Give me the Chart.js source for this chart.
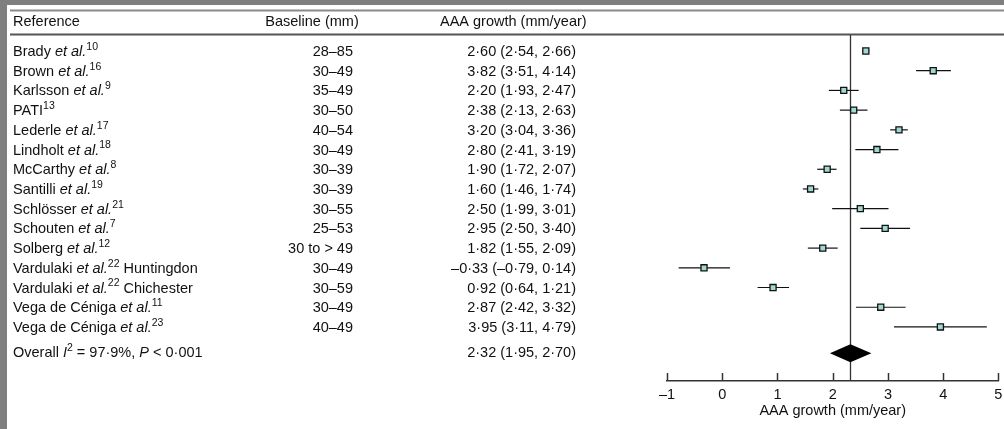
<!DOCTYPE html>
<html>
<head>
<meta charset="utf-8">
<script src="https://cdn.jsdelivr.net/npm/chart.js@4.4.0/dist/chart.umd.min.js"></script>
<style>
  html, body { margin: 0; padding: 0; background: #7f7f7f; }
  #wrap { position: absolute; left: 0; top: 0; width: 1004px; height: 429px; }
</style>
</head>
<body>
<div id="wrap"><canvas id="forestChart"></canvas></div>
<script>
// study rows, top to bottom
const studyLabels = [
  'Brady <i>et al.</i><sup>10</sup>',
  'Brown <i>et al.</i><sup>16</sup>',
  'Karlsson <i>et al.</i><sup>9</sup>',
  'PATI<sup>13</sup>',
  'Lederle <i>et al.</i><sup>17</sup>',
  'Lindholt <i>et al.</i><sup>18</sup>',
  'McCarthy <i>et al.</i><sup>8</sup>',
  'Santilli <i>et al.</i><sup>19</sup>',
  'Schlösser <i>et al.</i><sup>21</sup>',
  'Schouten <i>et al.</i><sup>7</sup>',
  'Solberg <i>et al.</i><sup>12</sup>',
  'Vardulaki <i>et al.</i><sup>22</sup> Huntingdon',
  'Vardulaki <i>et al.</i><sup>22</sup> Chichester',
  'Vega de Céniga <i>et al.</i><sup>11</sup>',
  'Vega de Céniga <i>et al.</i><sup>23</sup>'
];
const baselines = ['28–85', '30–49', '35–49', '30–50', '40–54', '30–49', '30–39', '30–39',
  '30–55', '25–53', '30 to > 49', '30–49', '30–59', '30–49', '40–49'];
const growth = [2.60, 3.82, 2.20, 2.38, 3.20, 2.80, 1.90, 1.60, 2.50, 2.95, 1.82, -0.33, 0.92, 2.87, 3.95];
const lower  = [2.54, 3.51, 1.93, 2.13, 3.04, 2.41, 1.72, 1.46, 1.99, 2.50, 1.55, -0.79, 0.64, 2.42, 3.11];
const upper  = [2.66, 4.14, 2.47, 2.63, 3.36, 3.19, 2.07, 1.74, 3.01, 3.40, 2.09, 0.14, 1.21, 3.32, 4.79];

const overallLabel = 'Overall <i>I</i><sup>2</sup> = 97·9%, <i>P</i> < 0·001';
const overall = { est: 2.32, lo: 1.95, hi: 2.70 };
const overallRow = 15.33;

const xTicks = [-1, 0, 1, 2, 3, 4, 5];
const headers = ['Reference', 'Baseline (mm)', 'AAA growth (mm/year)'];

const FONT = '"Liberation Sans", Arial, Helvetica, sans-serif';
const FS = 14.5;

function fmt(v) {
  return (v < 0 ? '–' : '') + Math.abs(v).toFixed(2).replace('.', '·');
}

function parts(str) {
  return str.split(/(<i>.*?<\/i>|<sup>.*?<\/sup>)/).filter(s => s).map(s => {
    if (s.startsWith('<i>')) return { t: s.slice(3, -4), k: 'i' };
    if (s.startsWith('<sup>')) return { t: s.slice(5, -6), k: 'sup' };
    return { t: s, k: 'n' };
  });
}

function fontFor(k) {
  if (k === 'i') return 'italic ' + FS + 'px ' + FONT;
  if (k === 'sup') return (FS - 4) + 'px ' + FONT;
  return FS + 'px ' + FONT;
}

function drawRich(ctx, str, x, y, align) {
  const ps = parts(str);
  let total = 0;
  ps.forEach(p => { ctx.font = fontFor(p.k); p.w = ctx.measureText(p.t).width; total += p.w; });
  let cx = align === 'right' ? x - total : align === 'center' ? x - total / 2 : x;
  ctx.textAlign = 'left';
  ps.forEach(p => {
    ctx.font = fontFor(p.k);
    ctx.fillText(p.t, cx, p.k === 'sup' ? y - 5 : y);
    cx += p.w;
  });
}

const forestPlugin = {
  id: 'forest',
  beforeDraw(chart) {
    const ctx = chart.ctx;
    ctx.save();
    ctx.fillStyle = '#7f7f7f';
    ctx.fillRect(0, 0, chart.width, chart.height);
    ctx.fillStyle = '#fff';
    ctx.fillRect(7, 5, chart.width - 7, chart.height - 5);
    // table rules
    ctx.strokeStyle = '#8a8a8a';
    ctx.lineWidth = 2;
    ctx.beginPath(); ctx.moveTo(10, 10.5); ctx.lineTo(chart.width, 10.5); ctx.stroke();
    ctx.strokeStyle = '#555';
    ctx.beginPath(); ctx.moveTo(10, 34.5); ctx.lineTo(chart.width, 34.5); ctx.stroke();
    ctx.restore();
  },
  beforeDatasetsDraw(chart) {
    const ctx = chart.ctx, xs = chart.scales.x, ys = chart.scales.y;
    const area = chart.chartArea;
    ctx.save();
    // reference line at pooled estimate
    const xo = Math.round(xs.getPixelForValue(overall.est)) + 0.5;
    ctx.strokeStyle = '#333';
    ctx.lineWidth = 1.3;
    ctx.beginPath(); ctx.moveTo(xo, area.top); ctx.lineTo(xo, area.bottom); ctx.stroke();
    // confidence intervals
    ctx.strokeStyle = '#111';
    ctx.lineWidth = 1.2;
    growth.forEach((g, i) => {
      const y = ys.getPixelForValue(i);
      ctx.beginPath();
      ctx.moveTo(xs.getPixelForValue(lower[i]), y);
      ctx.lineTo(xs.getPixelForValue(upper[i]), y);
      ctx.stroke();
    });
    // pooled diamond
    const yd = ys.getPixelForValue(overallRow);
    ctx.fillStyle = '#000';
    ctx.beginPath();
    ctx.moveTo(xs.getPixelForValue(overall.lo), yd);
    ctx.lineTo(xs.getPixelForValue(overall.est), yd - 9);
    ctx.lineTo(xs.getPixelForValue(overall.hi), yd);
    ctx.lineTo(xs.getPixelForValue(overall.est), yd + 9);
    ctx.closePath();
    ctx.fill();
    ctx.restore();
  },
  afterDraw(chart) {
    const ctx = chart.ctx, xs = chart.scales.x, ys = chart.scales.y;
    const area = chart.chartArea;
    ctx.save();
    // inward tick marks
    ctx.strokeStyle = '#333';
    ctx.lineWidth = 1.5;
    xTicks.forEach(v => {
      const px = Math.min(Math.round(xs.getPixelForValue(v)) + 0.5, chart.width - 1.5);
      ctx.beginPath(); ctx.moveTo(px, area.bottom); ctx.lineTo(px, area.bottom - 8); ctx.stroke();
    });
    // table text
    ctx.fillStyle = '#111';
    ctx.textBaseline = 'middle';
    drawRich(ctx, headers[0], 13, 22, 'left');
    drawRich(ctx, headers[1], 312, 22, 'center');
    drawRich(ctx, headers[2], 440, 22, 'left');
    studyLabels.forEach((lab, i) => {
      const y = ys.getPixelForValue(i) + 1;
      drawRich(ctx, lab, 13, y, 'left');
      drawRich(ctx, baselines[i], 353, y, 'right');
      drawRich(ctx, fmt(growth[i]) + ' (' + fmt(lower[i]) + ', ' + fmt(upper[i]) + ')', 576, y, 'right');
    });
    const yo = ys.getPixelForValue(overallRow);
    drawRich(ctx, overallLabel, 13, yo, 'left');
    drawRich(ctx, fmt(overall.est) + ' (' + fmt(overall.lo) + ', ' + fmt(overall.hi) + ')', 576, yo, 'right');
    ctx.restore();
  }
};

const ctx = document.getElementById('forestChart').getContext('2d');
const forestChart = new Chart(ctx, {
  type: 'scatter',
  data: {
    datasets: [{
      label: 'AAA growth',
      data: growth.map((g, i) => ({ x: g, y: i })),
      pointStyle: 'rect',
      pointRadius: 4.3,
      pointHoverRadius: 4.3,
      backgroundColor: '#9fdad2',
      borderColor: '#111',
      borderWidth: 1.3
    }]
  },
  options: {
    responsive: true,
    maintainAspectRatio: false,
    animation: false,
    events: [],
    layout: { padding: { left: 667, right: 2, top: 35, bottom: 0 } },
    plugins: { legend: { display: false }, tooltip: { enabled: false } },
    scales: {
      x: {
        type: 'linear',
        min: -1,
        max: 5,
        afterBuildTicks: s => { s.ticks = xTicks.map(v => ({ value: v })); },
        afterFit: s => { s.height = 48; s.paddingLeft = 0; s.paddingRight = 0; },
        grid: { display: true, drawOnChartArea: false, drawTicks: false },
        border: { display: true, color: '#333', width: 1.5 },
        ticks: {
          padding: 5,
          color: '#111',
          font: { family: FONT, size: FS },
          callback: v => (v < 0 ? '–' + Math.abs(v) : String(v))
        },
        title: {
          display: true,
          text: 'AAA growth (mm/year)',
          color: '#111',
          font: { family: FONT, size: FS },
          padding: { top: 0, bottom: 9 }
        }
      },
      y: {
        type: 'linear',
        reverse: true,
        min: -0.812,
        max: 16.743,
        display: false
      }
    }
  },
  plugins: [forestPlugin]
});
</script>
</body>
</html>
